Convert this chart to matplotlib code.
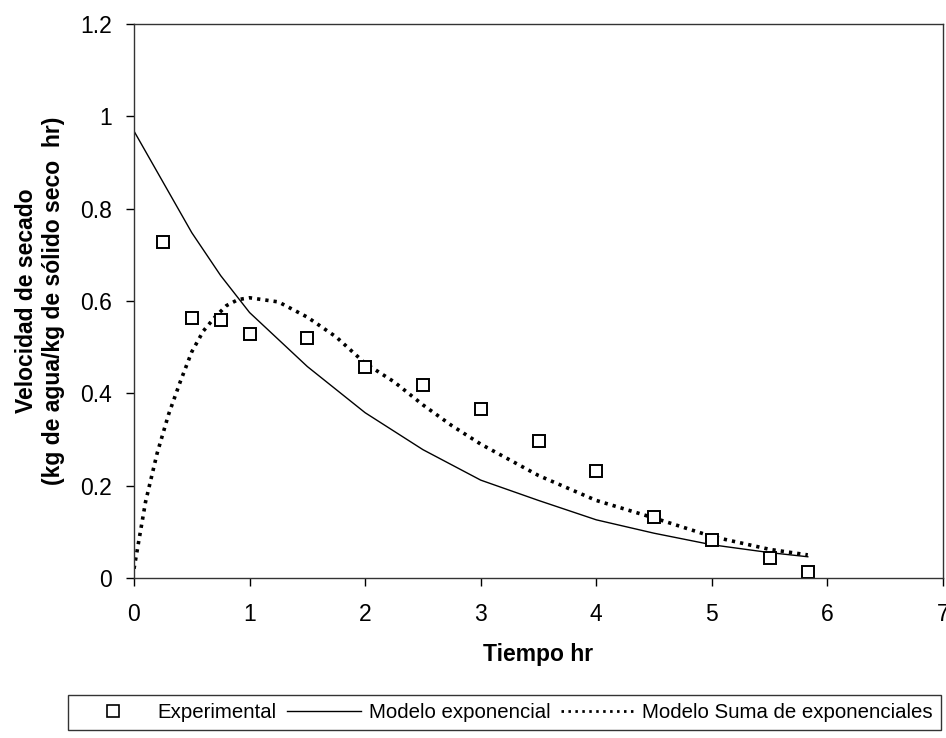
import matplotlib
matplotlib.use("Agg")
import matplotlib.pyplot as plt
from matplotlib.lines import Line2D

plt.rcParams['font.family'] = ['Liberation Sans', 'DejaVu Sans']

# Experimental data
t_exp = [0.25, 0.5, 0.75, 1.0, 1.5, 2.0, 2.5, 3.0, 3.5, 4.0, 4.5, 5.0, 5.5, 5.83]
v_exp = [0.727, 0.563, 0.559, 0.528, 0.520, 0.458, 0.419, 0.366, 0.297, 0.232, 0.132, 0.083, 0.043, 0.014]

# Modelo exponencial
t_mod1 = [0.0, 0.25, 0.5, 0.75, 1.0, 1.5, 2.0, 2.5, 3.0, 3.5, 4.0, 4.5, 5.0, 5.5, 5.83]
v_mod1 = [0.968, 0.858, 0.748, 0.655, 0.575, 0.458, 0.358, 0.278, 0.212, 0.168, 0.126, 0.097, 0.072, 0.055, 0.046]

# Modelo suma de exponenciales
t_mod2 = [0.0, 0.1, 0.2, 0.3, 0.4, 0.5, 0.6, 0.7, 0.8, 0.9, 1.0, 1.25, 1.5, 1.75,
          2.0, 2.25, 2.5, 2.75, 3.0, 3.5, 4.0, 4.5, 5.0, 5.5, 5.83]
v_mod2 = [0.02, 0.165, 0.27, 0.355, 0.425, 0.49, 0.535, 0.565, 0.59, 0.603, 0.607, 0.598,
          0.565, 0.522, 0.465, 0.425, 0.375, 0.33, 0.29, 0.222, 0.168, 0.13, 0.09, 0.062, 0.05]

x_ticks = [0, 1, 2, 3, 4, 5, 6, 7]
y_ticks = [0, 0.2, 0.4, 0.6, 0.8, 1, 1.2]
y_ticklabels = ['0', '0.2', '0.4', '0.6', '0.8', '1', '1.2']

W, H = 946, 738
fig = plt.figure(figsize=(W / 100, H / 100), dpi=100)
ax_l, ax_r, ax_t, ax_b = 134, 943, 24, 578
ax = fig.add_axes([ax_l / W, 1 - ax_b / H, (ax_r - ax_l) / W, (ax_b - ax_t) / H])

ax.plot(t_mod1, v_mod1, color='black', lw=1.0, label='Modelo exponencial')
ax.plot(t_mod2, v_mod2, color='black', lw=2.6, linestyle=(0, (0.9, 1.4)),
        label='Modelo Suma de exponenciales')
ax.plot(t_exp, v_exp, linestyle='none', marker='s', markersize=9.0,
        markerfacecolor='white', markeredgecolor='black', markeredgewidth=1.4,
        label='Experimental')

ax.set_xlim(0, 7)
ax.set_ylim(0, 1.2)
ax.set_xticks(x_ticks)
ax.set_xticklabels([str(v) for v in x_ticks])
ax.set_yticks(y_ticks)
ax.set_yticklabels(y_ticklabels)
ax.tick_params(axis='both', direction='out', length=6, width=1.0, labelsize=16.5, colors='black')
ax.tick_params(axis='y', pad=10)
ax.tick_params(axis='x', pad=12)
for s in ax.spines.values():
    s.set_linewidth(1.0)
    s.set_color('#333333')

ax.set_xlabel('Tiempo hr', fontsize=16.5, fontweight='bold', labelpad=12)
ax.set_ylabel('Velocidad de secado\n(kg de agua/kg de sólido seco  hr)', fontsize=16.5,
              fontweight='bold', labelpad=11, linespacing=1.2)

handles = [
    Line2D([], [], linestyle='none', marker='s', markersize=9.0, markerfacecolor='white',
           markeredgecolor='black', markeredgewidth=1.2),
    Line2D([], [], color='black', lw=1.0),
    Line2D([], [], color='black', lw=2.0, linestyle=(0, (0.9, 1.6))),
]
labels = ['Experimental', 'Modelo exponencial', 'Modelo Suma de exponenciales']
leg = fig.legend(handles, labels, loc='upper left', bbox_to_anchor=(68 / W, 1 - 695 / H),
                 borderaxespad=0, ncol=3, frameon=True, fancybox=False, fontsize=14.7,
                 handlelength=3.6, handletextpad=0.4, columnspacing=0.5, borderpad=0.4)
leg.get_frame().set_edgecolor('black')
leg.get_frame().set_linewidth(1.0)

fig.savefig('out.png', dpi=100)
